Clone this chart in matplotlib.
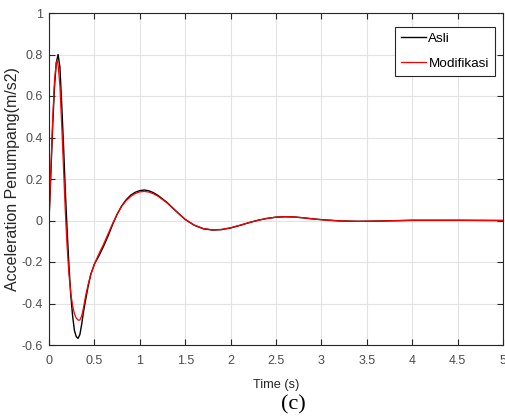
import matplotlib
matplotlib.use("Agg")
import matplotlib.pyplot as plt

t_asli = [0, 0.02, 0.04, 0.06, 0.08, 0.10, 0.12, 0.14, 0.16, 0.18, 0.20, 0.22, 0.24,
          0.26, 0.28, 0.30, 0.32, 0.34, 0.36, 0.38, 0.40, 0.43, 0.46, 0.50, 0.55, 0.60,
          0.65, 0.70, 0.75, 0.80, 0.85, 0.90, 0.95, 1.00, 1.05, 1.10, 1.15, 1.20, 1.30,
          1.40, 1.50, 1.60, 1.70, 1.80, 1.90, 2.00, 2.10, 2.20, 2.30, 2.40, 2.50, 2.60,
          2.70, 2.80, 2.90, 3.00, 3.20, 3.40, 3.60, 3.80, 4.00, 4.50, 5.00]
a_asli = [0, 0.22, 0.45, 0.64, 0.76, 0.80, 0.74, 0.56, 0.36, 0.14, -0.05, -0.22, -0.36,
          -0.46, -0.53, -0.56, -0.568, -0.55, -0.50, -0.44, -0.39, -0.32, -0.26, -0.21,
          -0.17, -0.125, -0.075, -0.02, 0.03, 0.07, 0.10, 0.122, 0.136, 0.144, 0.147,
          0.143, 0.134, 0.121, 0.087, 0.045, 0.005, -0.023, -0.040, -0.046, -0.044,
          -0.036, -0.024, -0.011, 0.001, 0.010, 0.016, 0.018, 0.017, 0.013, 0.008,
          0.004, -0.002, -0.004, -0.003, -0.001, 0.001, 0.001, 0.0]

t_mod = [0, 0.02, 0.04, 0.06, 0.08, 0.09, 0.10, 0.12, 0.14, 0.16, 0.18, 0.20, 0.22,
         0.24, 0.26, 0.28, 0.30, 0.32, 0.34, 0.36, 0.38, 0.40, 0.43, 0.46, 0.50, 0.55,
         0.60, 0.65, 0.70, 0.75, 0.80, 0.85, 0.90, 0.95, 1.00, 1.05, 1.10, 1.15, 1.20,
         1.30, 1.40, 1.50, 1.60, 1.70, 1.80, 1.90, 2.00, 2.10, 2.20, 2.30, 2.40, 2.50,
         2.60, 2.70, 2.80, 2.90, 3.00, 3.20, 3.40, 3.60, 3.80, 4.00, 4.50, 5.00]
a_mod = [0, 0.24, 0.48, 0.67, 0.76, 0.77, 0.75, 0.65, 0.46, 0.25, 0.04, -0.13, -0.26,
         -0.35, -0.41, -0.45, -0.47, -0.48, -0.48, -0.46, -0.42, -0.37, -0.31, -0.26,
         -0.21, -0.16, -0.115, -0.065, -0.015, 0.03, 0.068, 0.096, 0.116, 0.130, 0.138,
         0.140, 0.137, 0.129, 0.117, 0.085, 0.044, 0.005, -0.022, -0.039, -0.045,
         -0.043, -0.035, -0.023, -0.010, 0.001, 0.010, 0.016, 0.018, 0.017, 0.013,
         0.008, 0.004, -0.002, -0.004, -0.003, -0.001, 0.001, 0.001, 0.0]

x_ticks = [0, 0.5, 1, 1.5, 2, 2.5, 3, 3.5, 4, 4.5, 5]
x_tick_labels = ["0", "0.5", "1", "1.5", "2", "2.5", "3", "3.5", "4", "4.5", "5"]
y_ticks = [-0.6, -0.4, -0.2, 0, 0.2, 0.4, 0.6, 0.8, 1]
y_tick_labels = ["-0.6", "-0.4", "-0.2", "0", "0.2", "0.4", "0.6", "0.8", "1"]

plt.rcParams['font.family'] = ['Liberation Sans', 'DejaVu Sans']

fig = plt.figure(figsize=(5.05, 4.18), dpi=100)
ax = fig.add_axes([49 / 505, 1 - 345 / 418, 454 / 505, 332 / 418])

ax.plot(t_asli, a_asli, color="black", lw=1.0, label="Asli")
ax.plot(t_mod, a_mod, color="red", lw=0.9, label="Modifikasi")

ax.set_xlim(0, 5)
ax.set_ylim(-0.6, 1)
ax.set_xticks(x_ticks)
ax.set_xticklabels(x_tick_labels)
ax.set_yticks(y_ticks)
ax.set_yticklabels(y_tick_labels)
ax.grid(True, color="#e3e3e3", lw=0.8)
ax.set_axisbelow(True)
ax.tick_params(direction="in", top=True, right=True, length=4, width=0.8,
               colors="#262626", labelsize=9, labelcolor="#4d4d4d")
ax.tick_params(axis="x", pad=7)
ax.tick_params(axis="y", pad=4.5)
for s in ax.spines.values():
    s.set_color("#262626")
    s.set_linewidth(0.8)

ax.set_xlabel("Time (s)", fontsize=9.2, color="#262626", labelpad=8.5)
ax.set_ylabel("Acceleration Penumpang(m/s2)", fontsize=11.5, color="#262626")
ax.yaxis.set_label_coords(-0.064, 0.5)

leg = ax.legend(loc="upper right", bbox_to_anchor=(0.982, 0.9588), fontsize=9.7,
                frameon=True, fancybox=False, edgecolor="#262626", framealpha=1,
                handlelength=1.9, handletextpad=0.15, borderpad=0.45, labelspacing=0.92,
                borderaxespad=0)
leg.get_frame().set_linewidth(0.8)

fig.text(293 / 505, 1 - 405 / 418, "(c)", ha="center", va="center",
         fontsize=16, family="Liberation Serif", color="black")

fig.savefig("out.png", dpi=100)
